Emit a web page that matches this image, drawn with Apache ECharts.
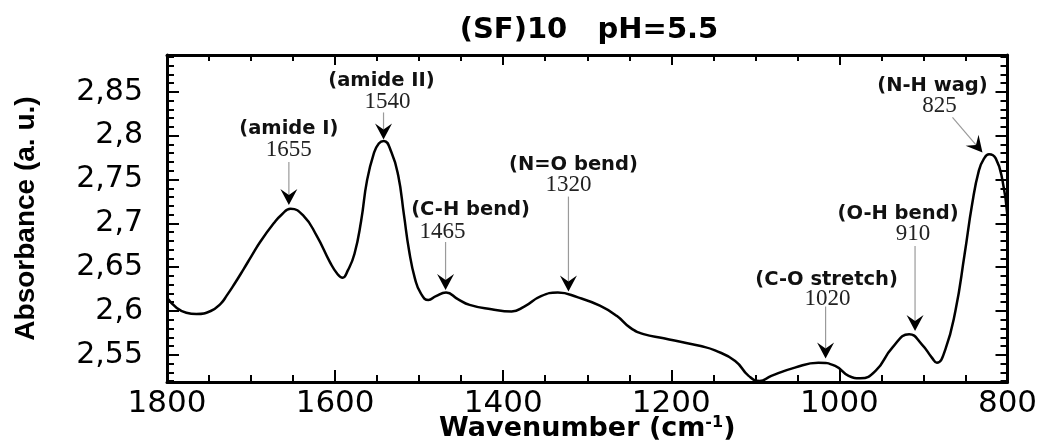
<!DOCTYPE html>
<html>
<head>
<meta charset="utf-8">
<script src="https://cdn.jsdelivr.net/npm/echarts@6/dist/echarts.min.js"></script>
<style>
  html, body { margin: 0; padding: 0; background: #fff; }
  #chart { width: 1046px; height: 445px; }
</style>
</head>
<body>
<div id="chart"></div>
<script>
// spectrum
var wavenumber = [1800, 1789, 1777, 1765, 1748, 1736, 1729, 1720, 1709, 1699,
    1689, 1673, 1664, 1653, 1638, 1622, 1606, 1597, 1591, 1585,
    1577, 1569, 1562, 1554, 1548, 1542, 1533, 1525, 1518, 1512,
    1505, 1498, 1489, 1480, 1468, 1454, 1440, 1414, 1390, 1375,
    1355, 1335, 1311, 1285, 1265, 1249, 1233, 1209, 1185, 1165,
    1148, 1124, 1108, 1095, 1081, 1053, 1025, 1005, 989, 975,
    957, 937, 917, 902, 890, 884, 874, 862, 851, 842,
    834, 828, 822, 814, 806, 800];
var absorbance = [2.615, 2.604, 2.598, 2.5965, 2.600, 2.6085, 2.6175, 2.6305, 2.6475, 2.6635,
    2.679, 2.700, 2.7095, 2.7166, 2.709, 2.686, 2.6555, 2.642, 2.638, 2.646,
    2.665, 2.703, 2.749, 2.7795, 2.791, 2.794, 2.781, 2.755, 2.709, 2.669,
    2.637, 2.620, 2.6125, 2.617, 2.621, 2.6136, 2.607, 2.602, 2.5995, 2.605,
    2.617, 2.621, 2.6155, 2.606, 2.5945, 2.581, 2.5736, 2.569, 2.564, 2.560,
    2.555, 2.543, 2.526, 2.520, 2.526, 2.5354, 2.541, 2.5373, 2.526, 2.5232,
    2.5316, 2.5582, 2.5736, 2.562, 2.5468, 2.541, 2.556, 2.600, 2.665, 2.7223,
    2.7604, 2.7738, 2.7787, 2.774, 2.749, 2.708];

// peak assignments
var peakNames = ['(amide I)', '(amide II)', '(C-H bend)', '(N=O bend)', '(C-O stretch)', '(O-H bend)', '(N-H wag)'];
var peakWavenumbers = [1655, 1540, 1465, 1320, 1020, 910, 825];

// y axis ticks
var yTickValues = [2.55, 2.6, 2.65, 2.7, 2.75, 2.8, 2.85];

// where each arrow/label sits, in pixels relative to the arrow tip
var annoLayout = [
    {tip: [0, -5], start: [0, -43], num: [0, -55], label: [0, -76]},
    {tip: [-2, -4], start: [0, -27], num: [4, -37], label: [-2, -59]},
    {tip: [-3, -4], start: [0, -48], num: [-3, -58], label: [25, -80]},
    {tip: [-2, -4], start: [0, -95], num: [0, -107], label: [5, -127]},
    {tip: [3, -5], start: [0, -52], num: [2, -60], label: [1, -79]},
    {tip: [0, -8], start: [0, -85], num: [-2, -97], label: [-17, -117]},
    {tip: [-4, -4], start: [-30, -35], num: [-43, -47], label: [-50, -67]}
];

var Y_MIN = 2.519, Y_MAX = 2.892;

function minorValues() {
    var out = [];
    for (var i = 252; i <= 289; i++) {
        if (i % 5 !== 0) out.push(i / 100);
    }
    return out;
}

function curveAt(w) {
    for (var i = 0; i < wavenumber.length - 1; i++) {
        var a = wavenumber[i], b = wavenumber[i + 1];
        if (w <= a && w >= b) {
            var t = (a - w) / (a - b);
            return absorbance[i] + t * (absorbance[i + 1] - absorbance[i]);
        }
    }
    return absorbance[absorbance.length - 1];
}

var chart = echarts.init(document.getElementById('chart'));

var tickStyle = {color: '#000', width: 2};
var axisLineStyle = {show: true, lineStyle: {color: '#000', width: 3}};

function xAxis(pos) {
    var bottom = pos === 'bottom';
    return {
        type: 'value', position: pos, min: 800, max: 1800, interval: 200, inverse: true,
        axisLine: axisLineStyle,
        axisTick: {inside: true, length: bottom ? 12 : 10, lineStyle: tickStyle},
        minorTick: {show: true, splitNumber: 4, length: bottom ? 7 : 6, lineStyle: tickStyle},
        splitLine: {show: false},
        axisLabel: {
            show: bottom, margin: 6, color: '#000',
            fontFamily: 'DejaVu Sans', fontSize: 31,
            formatter: function (v) { return String(v); }
        },
        name: bottom ? '{t|Wavenumber (cm}{s|-1}{t|)}' : '',
        nameLocation: 'middle', nameGap: 33, nameMoveOverlap: false,
        nameTextStyle: {
            rich: {
                t: {fontFamily: 'DejaVu Sans', fontWeight: 'bold', fontSize: 27, color: '#000'},
                s: {fontFamily: 'DejaVu Sans', fontWeight: 'bold', fontSize: 16, color: '#000', verticalAlign: 'top', padding: [0, 0, 12, 0]}
            }
        }
    };
}

function yAxis(pos, major) {
    var vals = major ? yTickValues : minorValues();
    var left = pos === 'left';
    return {
        type: 'value', position: pos, min: Y_MIN, max: Y_MAX,
        axisLine: major ? axisLineStyle : {show: false},
        axisTick: {inside: true, length: major ? 12 : 7, customValues: vals, lineStyle: tickStyle},
        splitLine: {show: false},
        axisLabel: {
            show: major && left, customValues: yTickValues, margin: 24, color: '#000',
            fontFamily: 'DejaVu Sans', fontSize: 30,
            formatter: function (v) { return String(+v.toFixed(2)).replace('.', ','); }
        },
        name: major && left ? 'Absorbance (a. u.)' : '',
        nameLocation: 'middle', nameGap: 127, nameMoveOverlap: false,
        nameTextStyle: {fontFamily: 'Liberation Sans', fontWeight: 'bold', fontSize: 28, color: '#000'}
    };
}

function renderAnno(params, api) {
    var i = params.dataIndex;
    var L = annoLayout[i];
    var p = api.coord([api.value(0), api.value(1)]);
    var tip = [p[0] + L.tip[0], p[1] + L.tip[1]];
    var start = [tip[0] + L.start[0], tip[1] + L.start[1]];
    var ang = Math.atan2(tip[1] - start[1], tip[0] - start[0]);
    var c = Math.cos(ang), s = Math.sin(ang);
    var head = [[0, 0], [-16, -8.5], [-10, 0], [-16, 8.5]].map(function (q) {
        return [tip[0] + q[0] * c - q[1] * s, tip[1] + q[0] * s + q[1] * c];
    });
    return {
        type: 'group',
        children: [
            {type: 'line', shape: {x1: start[0], y1: start[1], x2: tip[0] - 10 * c, y2: tip[1] - 10 * s},
                style: {stroke: '#9a9a9a', lineWidth: 1.2}},
            {type: 'polygon', shape: {points: head}, style: {fill: '#000'}},
            {type: 'text', x: tip[0] + L.num[0], y: tip[1] + L.num[1],
                style: {text: String(peakWavenumbers[i]), align: 'center', verticalAlign: 'middle',
                    font: '23px "Liberation Serif"', fill: '#222'}},
            {type: 'text', x: tip[0] + L.label[0], y: tip[1] + L.label[1],
                style: {text: peakNames[i], align: 'center', verticalAlign: 'middle',
                    font: 'bold 19.5px "DejaVu Sans"', fill: '#111'}}
        ]
    };
}

chart.setOption({
    backgroundColor: '#fff',
    animation: false,
    title: {
        text: '(SF)10   pH=5.5',
        left: 584, top: 11, textAlign: 'center',
        textStyle: {fontFamily: 'DejaVu Sans', fontWeight: 'bold', fontSize: 29, color: '#000'}
    },
    grid: {left: 167, right: 38.5, top: 55, bottom: 63, containLabel: false, outerBoundsMode: 'none'},
    xAxis: [xAxis('bottom'), xAxis('top')],
    yAxis: [yAxis('left', true), yAxis('left', false), yAxis('right', true), yAxis('right', false)],
    series: [
        {
            type: 'line',
            data: wavenumber.map(function (w, i) { return [w, absorbance[i]]; }),
            showSymbol: false, smooth: 0.5,
            lineStyle: {color: '#000', width: 2.5},
            silent: true
        },
        {
            type: 'custom',
            data: peakWavenumbers.map(function (w) { return [w, curveAt(w)]; }),
            renderItem: renderAnno,
            clip: false, silent: true, z: 5
        }
    ]
});
</script>
</body>
</html>
